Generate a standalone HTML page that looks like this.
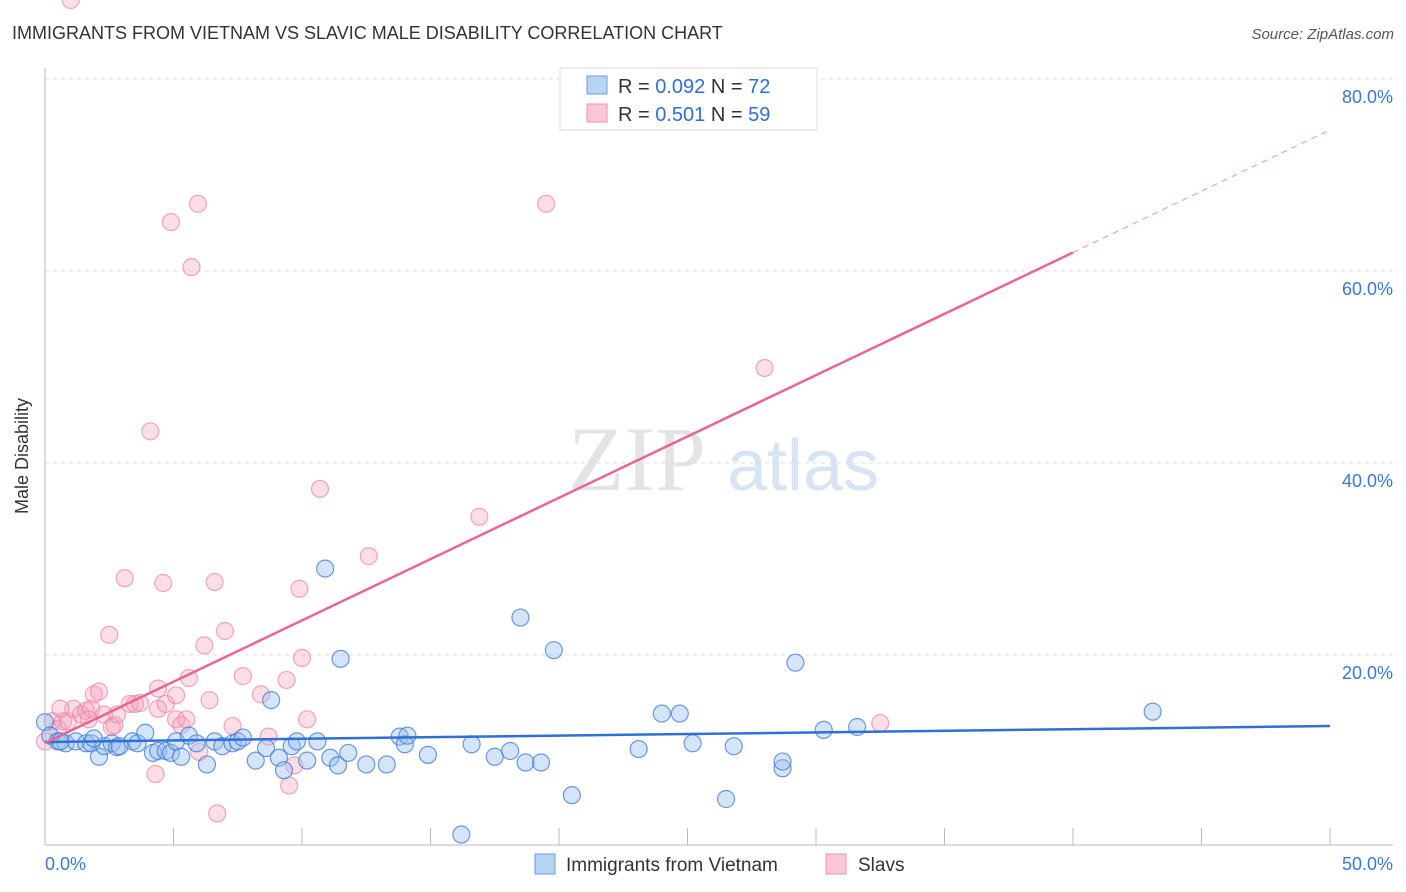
<!DOCTYPE html>
<html><head><meta charset="utf-8"><style>
body{margin:0;background:#fff;font-family:"Liberation Sans",sans-serif}
svg{display:block}
</style></head><body>
<svg id="chart" width="1406" height="892" viewBox="0 0 1406 892" xmlns="http://www.w3.org/2000/svg">
<text x="12" y="39" font-size="18" fill="#333">IMMIGRANTS FROM VIETNAM VS SLAVIC MALE DISABILITY CORRELATION CHART</text>
<text x="1394" y="39" font-size="15" fill="#555" font-style="italic" text-anchor="end">Source: ZipAtlas.com</text>
<g>
<text x="637" y="490" font-size="92" fill="#e4e4e4" text-anchor="middle" font-family="Liberation Serif,serif">ZIP</text>
<text x="803" y="490" font-size="72" fill="#d6e4f5" text-anchor="middle">atlas</text>
</g>
<g id="grid"></g>
<g id="axes"></g>
<g id="points"></g>
<g id="lines"></g>
<text x="28" y="456" font-size="18" fill="#333" text-anchor="middle" transform="rotate(-90 28 456)">Male Disability</text>
<g>
<rect x="560" y="68" width="257" height="62" fill="#fff" stroke="#ddd"/>
<rect x="587" y="76" width="20" height="18" fill="#b8d4f5" stroke="#6a9be0"/>
<rect x="587" y="104" width="20" height="18" fill="#f9c6d6" stroke="#ec90ad"/>
<text x="618" y="93" font-size="20" fill="#333">R = <tspan fill="#2f6fd6">0.092</tspan>   N = <tspan fill="#2f6fd6">72</tspan></text>
<text x="618" y="121" font-size="20" fill="#333">R =  <tspan fill="#2f6fd6">0.501</tspan>   N = <tspan fill="#2f6fd6">59</tspan></text>
</g>
<g>
<rect x="535" y="854" width="20" height="20" fill="#b8d4f5" stroke="#6a9be0"/>
<text x="566" y="871" font-size="19" fill="#333">Immigrants from Vietnam</text>
<rect x="826" y="854" width="20" height="20" fill="#f9c6d6" stroke="#ec90ad"/>
<text x="858" y="871" font-size="19" fill="#333">Slavs</text>
</g>
</svg>
<script>
const yTicks=[20,40,60,80];
const yTickLabels=["20.0%","40.0%","60.0%","80.0%"];
const xTickVals=[0,5,10,15,20,25,30,35,40,45,50];
const blueX=[0,0.2,0.5,0.8,1.2,1.6,1.8,2.1,2.3,2.6,2.8,3.4,3.6,3.9,4.2,4.4,4.7,4.9,5.1,5.3,5.6,5.9,6.3,6.6,6.9,7.3,7.5,7.7,8.2,8.6,8.8,9.1,9.3,9.6,9.8,10.2,10.6,10.9,11.1,11.4,11.5,11.8,12.5,13.3,13.8,14.0,14.1,14.9,16.2,16.6,17.5,18.1,18.5,18.7,19.3,19.8,20.5,23.1,24.0,24.7,25.2,26.5,26.8,28.7,28.7,29.2,30.3,31.6,43.1,1.9,0.6,2.9];
const blueY=[13.0,11.6,11.0,10.8,11.0,10.8,10.8,9.4,10.5,10.8,10.4,11.0,10.8,11.9,9.8,10.0,10.0,9.8,11.0,9.4,11.6,10.8,8.6,11.0,10.5,10.8,11.0,11.4,9.0,10.3,15.3,9.3,8.0,10.5,11.0,9.0,11.0,29.0,9.3,8.5,19.6,9.8,8.6,8.6,11.5,10.7,11.6,9.6,1.3,10.7,9.4,10.0,23.9,8.8,8.8,20.5,5.4,10.2,13.9,13.9,10.8,5.0,10.5,8.2,8.9,19.2,12.2,12.5,14.1,11.3,11.0,10.5];
const pinkX=[0,0.3,0.5,0.7,0.9,1.1,1.4,1.6,1.8,1.9,2.1,2.3,2.5,2.7,2.8,3.1,3.3,3.5,3.7,4.1,4.3,4.4,4.4,4.6,4.7,4.9,5.1,5.1,5.3,5.5,5.6,5.7,5.95,6.0,6.2,6.4,6.6,6.7,7.0,7.3,7.7,8.4,8.7,9.4,9.5,9.7,9.9,10.0,10.2,10.7,12.6,16.9,19.5,28.0,32.5,0.6,1.7,2.6,1.0];
const pinkY=[11.0,13.1,12.3,13.1,13.1,14.4,13.8,14.2,14.4,15.9,16.2,13.8,22.1,12.7,13.8,28.0,14.9,14.9,15.0,43.3,7.6,16.5,14.4,27.5,14.9,65.1,13.3,15.8,12.7,13.3,17.6,60.4,67.0,9.9,21.0,15.3,27.6,3.5,22.5,12.6,17.8,15.9,11.5,17.4,6.4,8.5,26.9,19.7,13.3,37.3,30.3,34.4,67.0,49.9,12.9,14.4,13.3,12.5];
const trendBlue=[10.94,12.6];
const trendPink=[10.83,74.7];
const NS='http://www.w3.org/2000/svg';
const X0=45,X1=1330,Y0=847,PPY=9.6;
const sx=v=>X0+v/50*(X1-X0);
const sy=v=>Y0-v*PPY;
function mk(tag,attrs,parent){const e=document.createElementNS(NS,tag);for(const k in attrs)e.setAttribute(k,attrs[k]);parent.appendChild(e);return e;}
const grid=document.getElementById('grid'),axes=document.getElementById('axes'),pts=document.getElementById('points'),lines=document.getElementById('lines');
yTicks.forEach((t,i)=>{
 const l=mk('line',{x1:X0,x2:1393,y1:sy(t),y2:sy(t),stroke:'#ddd','stroke-dasharray':'4 4'},grid);
 
 
 const tx=mk('text',{x:1393,y:sy(t)+24,'font-size':18,fill:'#3a78d8','text-anchor':'end'},grid);
 tx.textContent=yTickLabels[i];
 
 
});
const al=mk('line',{x1:X0,x2:X0,y1:68,y2:845,stroke:'#bbb'},axes);


const bl=mk('line',{x1:X0,x2:1393,y1:845,y2:845,stroke:'#bbb'},axes);


xTickVals.forEach(v=>{
 const t=mk('line',{x1:sx(v),x2:sx(v),y1:828,y2:845,stroke:'#bbb'},axes);
 
 
});
const xl0=mk('text',{x:45,y:870,'font-size':18,fill:'#3a78d8'},axes);xl0.textContent='0.0%';


const xl1=mk('text',{x:1393,y:870,'font-size':18,fill:'#3a78d8','text-anchor':'end'},axes);xl1.textContent='50.0%';


pinkX.forEach((x,i)=>{
 const c=mk('circle',{cx:sx(x),cy:sy(pinkY[i]),r:8.5,fill:'rgba(245,160,185,0.35)',stroke:'rgba(236,130,165,0.7)','stroke-width':1.2},pts);
 
 
});
blueX.forEach((x,i)=>{
 const c=mk('circle',{cx:sx(x),cy:sy(blueY[i]),r:8.5,fill:'rgba(150,190,240,0.4)',stroke:'rgba(60,120,215,0.75)','stroke-width':1.2},pts);
 
 
});
const b=mk('line',{x1:sx(0),y1:sy(trendBlue[0]),x2:sx(50),y2:sy(trendBlue[1]),stroke:'#2f6fd6','stroke-width':2.5},lines);


const pAt=x=>trendPink[0]+(trendPink[1]-trendPink[0])*x/50;
const p=mk('line',{x1:sx(0),y1:sy(pAt(0)),x2:sx(40),y2:sy(pAt(40)),stroke:'#e8668f','stroke-width':2.5},lines);


const pd=mk('line',{x1:sx(40),y1:sy(pAt(40)),x2:sx(50),y2:sy(pAt(50)),stroke:'#eea0b8','stroke-width':1.2,'stroke-dasharray':'6 5'},lines);


</script>
</body></html>
